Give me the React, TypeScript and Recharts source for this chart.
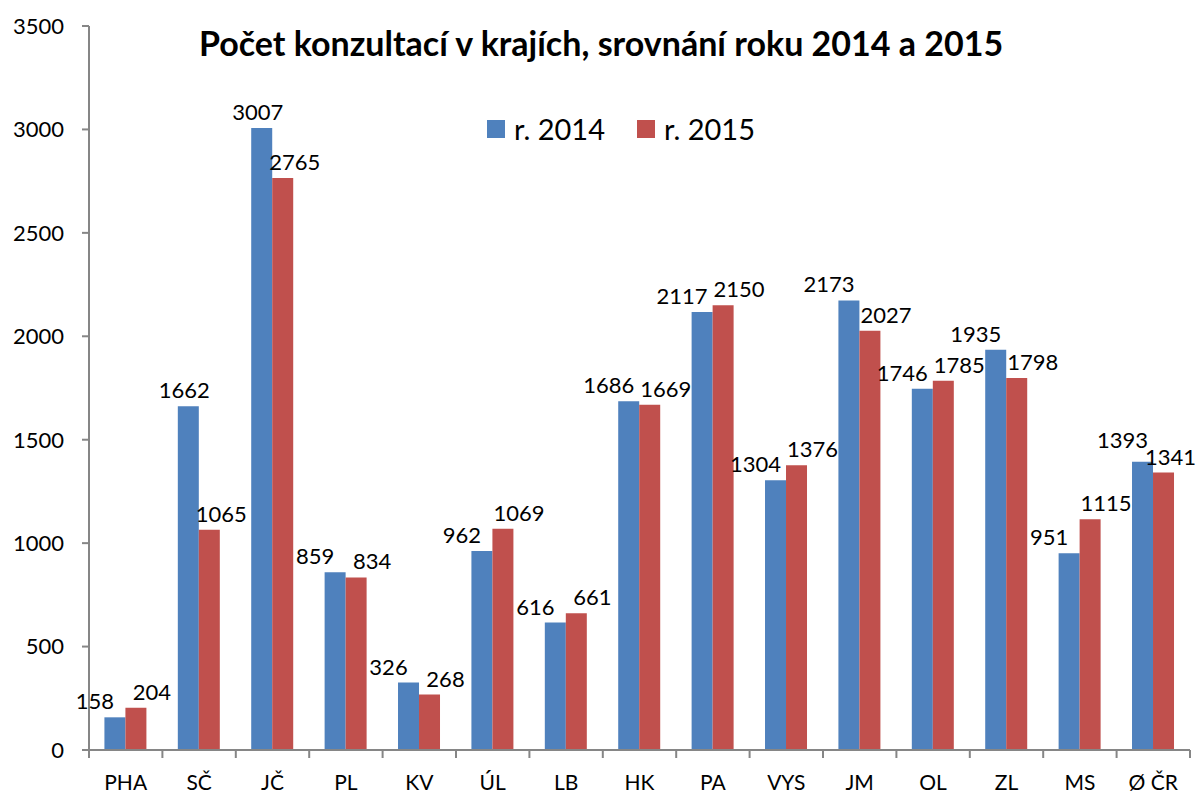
import { Bar, BarChart, LabelList, XAxis, YAxis } from "recharts";

const categories = ["PHA", "SČ", "JČ", "PL", "KV", "ÚL", "LB", "HK", "PA", "VYS", "JM", "OL", "ZL", "MS", "Ø ČR"];
const values2014 = [158, 1662, 3007, 859, 326, 962, 616, 1686, 2117, 1304, 2173, 1746, 1935, 951, 1393];
const values2015 = [204, 1065, 2765, 834, 268, 1069, 661, 1669, 2150, 1376, 2027, 1785, 1798, 1115, 1341];
const yTicks = [0, 500, 1000, 1500, 2000, 2500, 3000, 3500];

const data = categories.map((name, i) => ({
  name,
  y2014: values2014[i],
  y2015: values2015[i],
}));

const FONT = "Lato, 'Open Sans', sans-serif";
const WIDTH = 1198;
const HEIGHT = 804;
const PLOT_LEFT = 89;
const PLOT_RIGHT = 1190;
const PLOT_BOTTOM = 750;
const BAND = (PLOT_RIGHT - PLOT_LEFT) / categories.length;
const LABEL_SIZE = 22;

function CategoryTick({ x, y, payload, index }: any) {
  const right = x + BAND / 2;
  const left = x - BAND / 2;
  return (
    <g>
      {index === 0 && <line x1={left} x2={left} y1={y - 8} y2={y} stroke="#868686" strokeWidth={2} />}
      <line x1={right} x2={right} y1={y - 8} y2={y} stroke="#868686" strokeWidth={2} />
      <text x={x} y={y + 32} textAnchor="middle" fontSize={21} fill="#000" fontFamily={FONT}>
        {payload.value}
      </text>
    </g>
  );
}

// labels of neighbouring bars with similar heights are pushed apart
function makeLabel(series: "a" | "b") {
  return function BarLabel({ x, y, width, value, index }: any) {
    const close = Math.abs(values2014[index] - values2015[index]) < 200;
    const dx = series === "a" ? (close ? -20 : -4) : close ? 16 : 12;
    let cx = x + width / 2 + dx;
    const half = String(value).length * LABEL_SIZE * 0.29;
    if (cx + half > WIDTH - 2) cx = WIDTH - 2 - half;
    const lift = close && series === "a" && index === categories.length - 1 ? 6 : 0;
    return (
      <text x={cx} y={y - 8 - lift} textAnchor="middle" fontSize={LABEL_SIZE} fill="#000" fontFamily={FONT}>
        {value}
      </text>
    );
  };
}

function ChartLegend() {
  const items = [
    { label: "r. 2014", color: "#4F81BD" },
    { label: "r. 2015", color: "#C0504D" },
  ];
  return (
    <div
      style={{
        position: "absolute",
        top: 111,
        left: 0,
        width: WIDTH,
        display: "flex",
        justifyContent: "center",
        gap: 32,
        fontFamily: FONT,
        fontSize: 29,
        paddingLeft: 44,
        boxSizing: "border-box",
        zIndex: 2,
      }}
    >
      {items.map((it) => (
        <div key={it.label} style={{ display: "flex", alignItems: "center" }}>
          <span style={{ display: "inline-block", width: 18, height: 18, background: it.color, marginRight: 9 }} />
          <span>{it.label}</span>
        </div>
      ))}
    </div>
  );
}

export default function App() {
  return (
    <div style={{ position: "absolute", left: 0, top: 0, width: WIDTH, height: HEIGHT, background: "#fff" }}>
      <div
        style={{
          position: "absolute",
          top: 22,
          left: 0,
          width: WIDTH,
          textAlign: "center",
          fontFamily: FONT,
          fontWeight: 700,
          fontSize: 34,
          paddingLeft: 4,
          boxSizing: "border-box",
          zIndex: 2,
        }}
      >
        Počet konzultací v krajích, srovnání roku 2014 a 2015
      </div>
      <ChartLegend />
      <BarChart
        width={WIDTH}
        height={HEIGHT}
        data={data}
        margin={{ top: 26, right: WIDTH - PLOT_RIGHT, bottom: 0, left: 0 }}
        barCategoryGap="21%"
        barGap={0}
      >
        <YAxis
          width={PLOT_LEFT}
          domain={[0, 3500]}
          ticks={yTicks}
          interval={0}
          axisLine={{ stroke: "#868686", strokeWidth: 2 }}
          tickLine={{ stroke: "#868686", strokeWidth: 2 }}
          tickSize={7}
          tickMargin={18}
          tick={{ fill: "#000", fontSize: 22, fontFamily: FONT }}
        />
        <XAxis
          dataKey="name"
          height={HEIGHT - PLOT_BOTTOM}
          interval={0}
          axisLine={{ stroke: "#868686", strokeWidth: 2 }}
          tickLine={false}
          tick={<CategoryTick />}
        />
        <Bar dataKey="y2014" fill="#4F81BD" isAnimationActive={false}>
          <LabelList dataKey="y2014" content={makeLabel("a")} />
        </Bar>
        <Bar dataKey="y2015" fill="#C0504D" isAnimationActive={false}>
          <LabelList dataKey="y2015" content={makeLabel("b")} />
        </Bar>
      </BarChart>
    </div>
  );
}
